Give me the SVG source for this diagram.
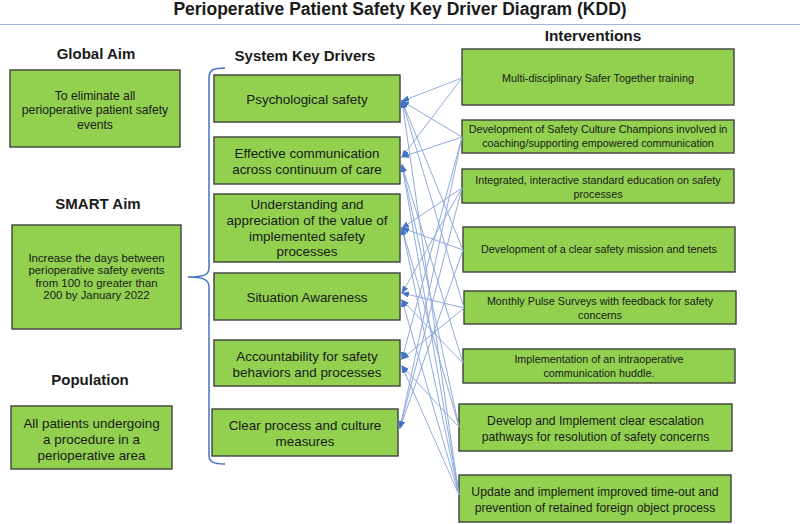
<svg xmlns="http://www.w3.org/2000/svg" width="800" height="524" viewBox="0 0 800 524">
<style>
.box{fill:#92D050;stroke:#3F3F3F;stroke-width:1.4}
.hd{font-family:"Liberation Sans",Arial,sans-serif;font-weight:bold;fill:#1a1a1a;text-anchor:middle}
.t1{font-family:"Liberation Sans",Arial,sans-serif;font-size:12.2px;fill:#1a1a1a;text-anchor:middle}
.t1s{font-family:"Liberation Sans",Arial,sans-serif;font-size:11.4px;fill:#1a1a1a;text-anchor:middle}
.t2{font-family:"Liberation Sans",Arial,sans-serif;font-size:13.4px;fill:#1a1a1a;text-anchor:middle}
.t3{font-family:"Liberation Sans",Arial,sans-serif;font-size:10.8px;fill:#1a1a1a;text-anchor:middle}
.t4{font-family:"Liberation Sans",Arial,sans-serif;font-size:12.2px;fill:#1a1a1a;text-anchor:middle}
.cn{stroke:#8FAADC;stroke-width:1;fill:none;marker-end:url(#ah)}
</style>
<defs>
<marker id="ah" markerWidth="8" markerHeight="6" refX="7" refY="3" orient="auto" markerUnits="userSpaceOnUse">
<path d="M0,0 L8,3 L0,6 Z" fill="#4472C4"/>
</marker>
</defs>
<rect width="800" height="524" fill="#ffffff"/>
<text class="hd" x="400" y="15" font-size="17.5px">Perioperative Patient Safety Key Driver Diagram (KDD)</text>
<line x1="0" y1="24.5" x2="800" y2="24.5" stroke="#9DB3E0" stroke-width="1.2"/>

<text class="hd" x="96" y="58.5" font-size="15px">Global Aim</text>
<text class="hd" x="98" y="208.5" font-size="15px">SMART Aim</text>
<text class="hd" x="90" y="384.5" font-size="15px">Population</text>
<text class="hd" x="305" y="60.5" font-size="15px">System Key Drivers</text>
<text class="hd" x="593" y="40.5" font-size="15.4px">Interventions</text>

<g id="global-aim">
<rect class="box" x="10" y="70" width="170" height="77"/>
<text class="t1" x="95" y="99.5">To eliminate all</text>
<text class="t1" x="95" y="114">perioperative patient safety</text>
<text class="t1" x="95" y="128.5">events</text>
</g>
<g id="smart-aim">
<rect class="box" x="12" y="225" width="169" height="104"/>
<text class="t1s" x="96.5" y="261.5">Increase the days between</text>
<text class="t1s" x="96.5" y="274">perioperative safety events</text>
<text class="t1s" x="96.5" y="286.5">from 100 to greater than</text>
<text class="t1s" x="96.5" y="299">200 by January 2022</text>
</g>
<g id="population">
<rect class="box" x="11" y="406" width="161" height="63"/>
<text class="t2" x="91.5" y="427.5">All patients undergoing</text>
<text class="t2" x="91.5" y="443.5">a procedure in a</text>
<text class="t2" x="91.5" y="459.5">perioperative area</text>
</g>

<path id="bracket" d="M225,68 C213,68 209,70 209,78 L209,268 C209,275 204,277 188,277 C204,277 209,280 209,287 L209,455 C209,462 213,464 225,464" fill="none" stroke="#4472C4" stroke-width="1.5"/>

<g id="d-psych">
<rect class="box" x="214" y="75" width="186" height="47"/>
<text class="t2" x="307" y="103.5">Psychological safety</text>
</g>
<g id="d-comm">
<rect class="box" x="214" y="137" width="186" height="47"/>
<text class="t2" x="307" y="158">Effective communication</text>
<text class="t2" x="307" y="173.5">across continuum of care</text>
</g>
<g id="d-understand">
<rect class="box" x="214" y="194" width="186" height="68"/>
<text class="t2" x="307" y="209">Understanding  and</text>
<text class="t2" x="307" y="225">appreciation of the value of</text>
<text class="t2" x="307" y="240.5">implemented safety</text>
<text class="t2" x="307" y="256">processes</text>
</g>
<g id="d-situation">
<rect class="box" x="214" y="273" width="186" height="47"/>
<text class="t2" x="307" y="302">Situation Awareness</text>
</g>
<g id="d-account">
<rect class="box" x="214" y="340" width="186" height="46"/>
<text class="t2" x="307" y="361">Accountability for safety</text>
<text class="t2" x="307" y="377">behaviors and processes</text>
</g>
<g id="d-clear">
<rect class="box" x="212" y="409" width="186" height="47"/>
<text class="t2" x="305" y="430">Clear process and culture</text>
<text class="t2" x="305" y="445.5">measures</text>
</g>

<g id="i-1">
<rect class="box" x="462" y="49" width="272" height="56"/>
<text class="t3" x="598" y="82">Multi-disciplinary Safer Together training</text>
</g>
<g id="i-2">
<rect class="box" x="462" y="120" width="272" height="33"/>
<text class="t3" x="598" y="133">Development of Safety Culture Champions involved in</text>
<text class="t3" x="598" y="147">coaching/supporting empowered communication</text>
</g>
<g id="i-3">
<rect class="box" x="462" y="169" width="272" height="34"/>
<text class="t3" x="598" y="184">Integrated, interactive standard education on safety</text>
<text class="t3" x="598" y="198">processes</text>
</g>
<g id="i-4">
<rect class="box" x="463" y="227" width="272" height="45"/>
<text class="t3" x="599" y="253">Development of a clear safety mission and tenets</text>
</g>
<g id="i-5">
<rect class="box" x="464" y="291" width="272" height="33"/>
<text class="t3" x="600" y="305">Monthly Pulse Surveys with feedback for safety</text>
<text class="t3" x="600" y="319">concerns</text>
</g>
<g id="i-6">
<rect class="box" x="463" y="349" width="272" height="34"/>
<text class="t3" x="599" y="363">Implementation of an intraoperative</text>
<text class="t3" x="599" y="377">communication huddle.</text>
</g>
<g id="i-7">
<rect class="box" x="459" y="404" width="273" height="47"/>
<text class="t4" x="595.5" y="424.5">Develop and Implement clear escalation</text>
<text class="t4" x="595.5" y="440.5">pathways for resolution of safety concerns</text>
</g>
<g id="i-8">
<rect class="box" x="459" y="475" width="272" height="47"/>
<text class="t4" x="595" y="495.5">Update and implement improved time-out and</text>
<text class="t4" x="595" y="511.5">prevention of retained foreign object process</text>
</g>

<g id="connectors">
<line class="cn" x1="462" y1="78" x2="402" y2="101"/>
<line class="cn" x1="462" y1="78" x2="402" y2="157"/>
<line class="cn" x1="462" y1="137" x2="402" y2="101"/>
<line class="cn" x1="462" y1="137" x2="402" y2="157"/>
<line class="cn" x1="462" y1="137" x2="402" y2="359"/>
<line class="cn" x1="462" y1="137" x2="400" y2="428"/>
<line class="cn" x1="462" y1="188" x2="402" y2="228"/>
<line class="cn" x1="462" y1="188" x2="400" y2="428"/>
<line class="cn" x1="462" y1="188" x2="402" y2="293"/>
<line class="cn" x1="463" y1="250" x2="402" y2="101"/>
<line class="cn" x1="463" y1="250" x2="402" y2="228"/>
<line class="cn" x1="463" y1="250" x2="400" y2="428"/>
<line class="cn" x1="464" y1="308" x2="402" y2="101"/>
<line class="cn" x1="464" y1="308" x2="402" y2="293"/>
<line class="cn" x1="464" y1="308" x2="402" y2="359"/>
<line class="cn" x1="463" y1="363" x2="402" y2="165"/>
<line class="cn" x1="463" y1="363" x2="402" y2="300"/>
<line class="cn" x1="459" y1="427" x2="402" y2="366"/>
<line class="cn" x1="459" y1="427" x2="402" y2="165"/>
<line class="cn" x1="459" y1="427" x2="402" y2="228"/>
<line class="cn" x1="459" y1="495" x2="402" y2="101"/>
<line class="cn" x1="459" y1="495" x2="402" y2="165"/>
<line class="cn" x1="459" y1="495" x2="402" y2="228"/>
<line class="cn" x1="459" y1="495" x2="402" y2="300"/>
<line class="cn" x1="459" y1="495" x2="402" y2="366"/>
</g>
</svg>
